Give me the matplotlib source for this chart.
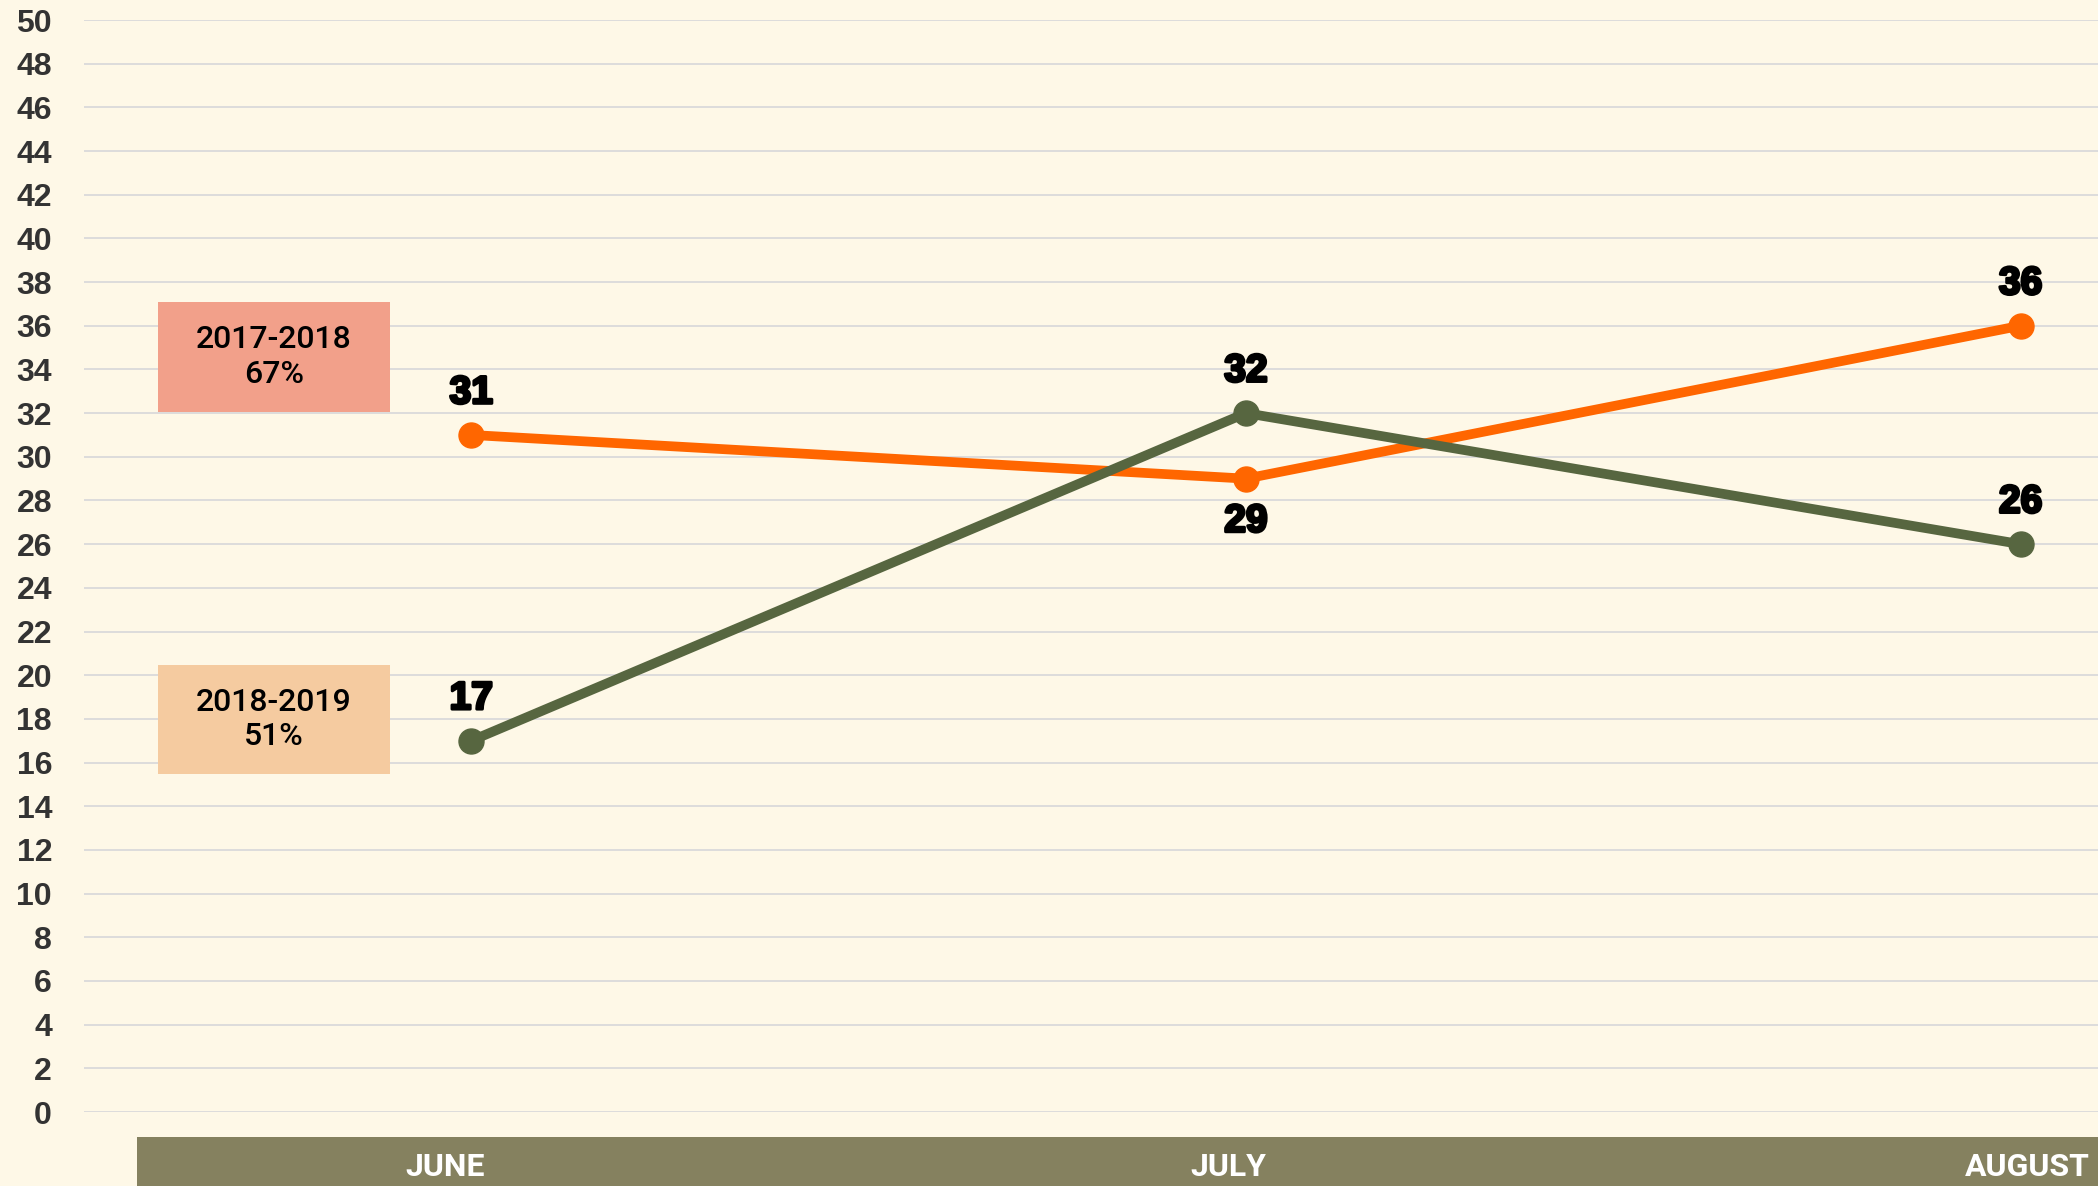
import matplotlib
matplotlib.use("Agg")
import matplotlib.pyplot as plt
from matplotlib import font_manager, transforms
from matplotlib.patches import Rectangle
import matplotlib.patheffects as pe

# ---- data ----
months = ["JUNE", "JULY", "AUGUST"]
series_names = ["2017-2018", "2018-2019"]
values_2017_2018 = [31, 29, 36]
values_2018_2019 = [17, 32, 26]
box_labels = ["2017-2018\n67%", "2018-2019\n51%"]
y_ticks = list(range(0, 51, 2))

# ---- style ----
W, H = 2098, 1186
BG = "#FEF8E7"
ORANGE = "#FF6600"
GREEN = "#576640"
BAR = "#85815F"
GRID = "#DADADA"

names = {f.name for f in font_manager.fontManager.ttflist}
NARROW = ["Liberation Sans Narrow", "DejaVu Sans"] if "Liberation Sans Narrow" in names else ["Roboto", "DejaVu Sans"]
SANS = ["Liberation Sans", "DejaVu Sans"]

fig = plt.figure(figsize=(W / 100, H / 100), dpi=100, facecolor=BG)

def px_rect(x0, y0, x1, y1):
    return [x0 / W, 1 - y1 / H, (x1 - x0) / W, (y1 - y0) / H]

ax = fig.add_axes(px_rect(84, 20, W, 1112))
ax.set_facecolor(BG)
ax.set_xlim(-0.5, 2.1)
ax.set_ylim(0, 50)
ax.set_yticks(y_ticks)
ax.set_yticklabels([str(t) for t in y_ticks], fontsize=23, fontweight="bold",
                   color="#333333", family=SANS)
ax.tick_params(axis="y", length=0, pad=23)
ax.set_xticks([])
for s in ax.spines.values():
    s.set_visible(False)
ax.grid(axis="y", color=GRID, linewidth=1.3)
ax.set_axisbelow(True)

x = list(range(len(months)))
positions = {
    "2017-2018": ["above", "below", "above"],
    "2018-2019": ["above", "above", "above"],
}
for name, vals, col in [(series_names[0], values_2017_2018, ORANGE),
                        (series_names[1], values_2018_2019, GREEN)]:
    ax.plot(x, vals, color=col, linewidth=7, marker="o", markersize=18,
            clip_on=False, zorder=3, solid_capstyle="round")
    for xi, v, pos in zip(x, vals, positions[name]):
        dy = 30 if pos == "above" else -31
        ax.annotate(str(v), (xi, v), xytext=(0, dy), textcoords="offset points",
                    ha="center", va="center", fontsize=28, fontweight="bold",
                    family=SANS, color="black", zorder=4,
                    path_effects=[pe.withStroke(linewidth=2.2, foreground="black")])

# legend-like boxes
box_px = [(158, 302, 390, 412), (158, 665, 390, 774)]
box_cols = ["#F2A08A", "#F5CBA0"]
for (x0, y0, x1, y1), col, lab in zip(box_px, box_cols, box_labels):
    fig.patches.append(Rectangle((x0 / W, 1 - y1 / H), (x1 - x0) / W, (y1 - y0) / H,
                                 transform=fig.transFigure, facecolor=col,
                                 edgecolor="none", zorder=5))
    fig.text((x0 + x1) / 2 / W, 1 - (y0 + y1) / 2 / H, lab, ha="center", va="center",
             fontsize=23, fontweight="medium", family=NARROW, color="black",
             linespacing=1.25, zorder=6)

# bottom category bar
fig.patches.append(Rectangle((137 / W, 0), 1 - 137 / W, (H - 1137) / H,
                             transform=fig.transFigure, facecolor=BAR,
                             edgecolor="none", zorder=1))
label_dx_px = [-26, -18, 7]
blend = transforms.blended_transform_factory(ax.transData, fig.transFigure)
for xi, m, dx in zip(x, months, label_dx_px):
    tr = blend + transforms.ScaledTranslation(dx / 100, 0, fig.dpi_scale_trans)
    fig.text(xi, (H - 1167) / H, m, transform=tr, ha="center", va="center",
             fontsize=23, fontweight="bold", family=NARROW, color="white", zorder=2)

fig.savefig("out.png", dpi=100, facecolor=BG)
